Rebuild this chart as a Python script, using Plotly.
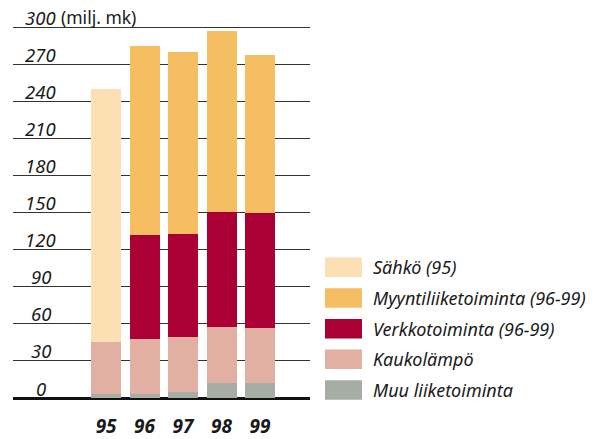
# -*- coding: utf-8 -*-

import plotly.graph_objs as go

years = ["95", "96", "97", "98", "99"]
muu = [3, 3, 4.5, 12.5, 12]
kaukolampo = [42, 45, 45, 45, 45]
sahko = [205, None, None, None, None]
verkko = [None, 84, 83, 93, 93]
myynti = [None, 153, 148, 147, 128]

y_ticks = [0, 30, 60, 90, 120, 150, 180, 210, 240, 270, 300]
unit_label = "(milj. mk)"

# bottom to top in the stack
series = [
    ("Muu liiketoiminta", muu, "#a6ada5"),
    ("Kaukolämpö", kaukolampo, "#e2afa3"),
    ("Sähkö (95)", sahko, "#fcdfb3"),
    ("Verkkotoiminta (96-99)", verkko, "#aa0036"),
    ("Myyntiliiketoiminta (96-99)", myynti, "#f5be62"),
]
legend_order = [
    "Sähkö (95)",
    "Myyntiliiketoiminta (96-99)",
    "Verkkotoiminta (96-99)",
    "Kaukolämpö",
    "Muu liiketoiminta",
]

font_family = "Noto Sans"
text_color = "#1a1a1a"

WIDTH, HEIGHT = 597, 439
M_LEFT, M_RIGHT, M_TOP, M_BOTTOM = 13, 287, 25, 41
PLOT_W = WIDTH - M_LEFT - M_RIGHT
PLOT_H = HEIGHT - M_TOP - M_BOTTOM


def px_to_paper_x(px):
    return (px - M_LEFT) / PLOT_W


def px_to_paper_y(py):
    return 1 - (py - M_TOP) / PLOT_H


fig = go.Figure()
for name, values, color in series:
    fig.add_trace(
        go.Bar(
            x=years,
            y=values,
            name=name,
            marker={"color": color, "line": {"width": 0}},
            width=0.78,
            showlegend=False,
        )
    )

# y tick labels: italic, centred, sitting just above each grid line
for tick in y_ticks:
    fig.add_annotation(
        x=px_to_paper_x(40.5),
        y=tick,
        xref="paper",
        yref="y",
        text=f"<i>{tick}</i>",
        showarrow=False,
        xanchor="center",
        yanchor="middle",
        yshift=10,
        font={"size": 18.5, "color": text_color, "family": font_family},
    )
fig.add_annotation(
    x=px_to_paper_x(59),
    y=y_ticks[-1],
    xref="paper",
    yref="y",
    text=unit_label,
    showarrow=False,
    xanchor="left",
    yanchor="middle",
    yshift=10,
    font={"size": 17.5, "color": text_color, "family": font_family},
)

# hand-made legend with wide swatches
color_by_name = {name: color for name, _, color in series}
legend_top = 257.5
legend_step = 30.7
for i, name in enumerate(legend_order):
    top = legend_top + i * legend_step
    y0 = px_to_paper_y(top)
    y1 = px_to_paper_y(top + 19.5)
    fig.add_shape(
        type="rect",
        xref="paper",
        yref="paper",
        x0=px_to_paper_x(325),
        x1=px_to_paper_x(362),
        y0=y0,
        y1=y1,
        fillcolor=color_by_name[name],
        line={"width": 0},
        layer="above",
    )
    fig.add_annotation(
        x=px_to_paper_x(371),
        y=(y0 + y1) / 2,
        xref="paper",
        yref="paper",
        text=f"<i>{name}</i>",
        showarrow=False,
        xanchor="left",
        yanchor="middle",
        font={"size": 18, "color": text_color, "family": font_family},
    )

fig.update_layout(
    width=WIDTH,
    height=HEIGHT,
    barmode="stack",
    plot_bgcolor="white",
    paper_bgcolor="white",
    margin=dict(l=M_LEFT, r=M_RIGHT, t=M_TOP, b=M_BOTTOM, autoexpand=False),
    font={"family": font_family, "color": text_color},
    showlegend=False,
    xaxis={
        "range": [-2.42, 5.30],
        "automargin": False,
        "showgrid": False,
        "zeroline": False,
        "showline": False,
        "ticks": "",
        "tickfont": {"size": 19, "family": font_family, "color": text_color, "weight": "bold", "style": "italic"},
        "ticklabelstandoff": 15,
        "fixedrange": True,
    },
    yaxis={
        "range": [0, 302],
        "automargin": False,
        "tickvals": y_ticks,
        "showticklabels": False,
        "showgrid": True,
        "gridcolor": "#333333",
        "gridwidth": 1,
        "zeroline": True,
        "zerolinecolor": "#111111",
        "zerolinewidth": 3,
        "fixedrange": True,
    },
)

# the page's default body margin would push the figure off its 597x439 frame
fig.write_html(
    "out.html",
    config={"displayModeBar": False},
    post_script="document.body.style.margin = '0';",
)
